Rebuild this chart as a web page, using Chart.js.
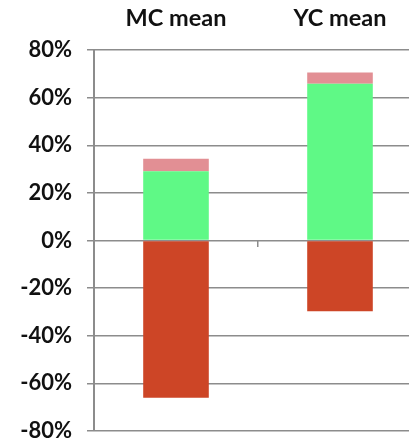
<!DOCTYPE html>
<html lang="en">

<head>
    <meta charset="UTF-8">
    <meta name="viewport" content="width=device-width, initial-scale=1.0">
    <script src="https://cdn.jsdelivr.net/npm/chart.js"></script>
    <title>MC / YC mean</title>
    <style>
        html, body { margin: 0; padding: 0; overflow: hidden; background: #fff; }
    </style>
</head>

<body>
    <canvas id="myChart" width="430" height="441"></canvas>
    <script>
        // Catégories et valeurs (en %)
        const categories = ['MC mean', 'YC mean'];
        const negativePart = [-66, -29.7];
        const greenPart = [29.1, 65.8];
        const pinkPart = [5.2, 4.8];
        const yTicks = [-80, -60, -40, -20, 0, 20, 40, 60, 80];

        const gridColor = '#8c8c8c';
        const fontFamily = 'Lato, "Open Sans", sans-serif';

        const chartConfig = {
            type: 'bar',
            data: {
                labels: categories,
                datasets: [
                    {
                        label: 'negative',
                        data: negativePart,
                        backgroundColor: '#cd4526',
                    },
                    {
                        label: 'green',
                        data: greenPart,
                        backgroundColor: '#5ff986',
                    },
                    {
                        label: 'pink',
                        data: pinkPart,
                        backgroundColor: '#e28f94',
                    },
                ],
            },
            options: {
                responsive: false,
                animation: false,
                layout: { padding: { left: 0, right: 8, top: 0, bottom: 10 } },
                datasets: {
                    bar: { categoryPercentage: 0.8, barPercentage: 0.5 }
                },
                plugins: {
                    legend: { display: false },
                    tooltip: { enabled: false },
                },
                scales: {
                    x: {
                        stacked: true,
                        position: 'top',
                        grid: { display: false, drawTicks: false },
                        border: { display: false },
                        ticks: {
                            padding: 17,
                            color: '#111',
                            font: { family: fontFamily, size: 23.5, weight: 'bold' },
                        },
                        afterFit: (axis) => { axis.height = 50; },
                    },
                    x2: {
                        type: 'category',
                        labels: categories,
                        position: { y: 0 },
                        offset: true,
                        grid: { offset: true, drawOnChartArea: false, tickLength: 6, color: gridColor, lineWidth: 1.5 },
                        border: { display: false },
                        ticks: { display: false },
                        afterFit: (axis) => { axis.height = 0; },
                    },
                    y: {
                        stacked: true,
                        min: -80,
                        max: 80,
                        afterBuildTicks: (axis) => {
                            axis.ticks = yTicks.map(v => ({ value: v }));
                        },
                        grid: { color: gridColor, lineWidth: 1.5, tickLength: 7 },
                        border: { color: gridColor, width: 2 },
                        ticks: {
                            padding: 15,
                            color: '#111',
                            font: { family: fontFamily, size: 22, weight: 'bold' },
                            callback: (v) => v + '%',
                        },
                        afterFit: (axis) => {
                            axis.width = 94;
                            axis.paddingTop = 0;
                            axis.paddingBottom = 0;
                        },
                    },
                },
            },
        };

        const ctx = document.getElementById('myChart').getContext('2d');
        const myChart = new Chart(ctx, chartConfig);
    </script>
</body>

</html>
